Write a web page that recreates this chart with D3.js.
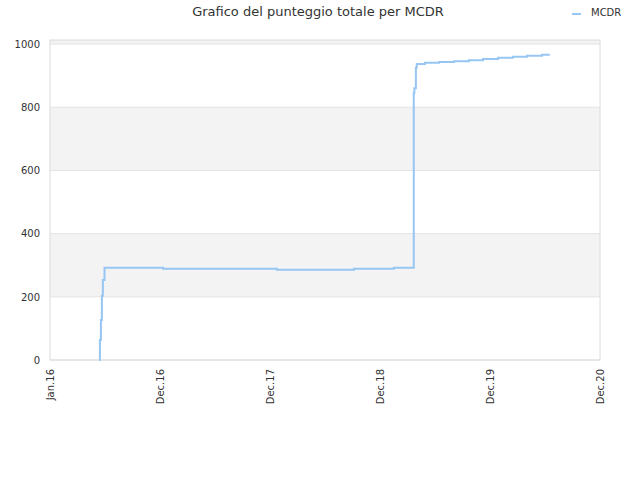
<!DOCTYPE html>
<html>
<head>
<meta charset="utf-8">
<script src="https://cdn.jsdelivr.net/npm/d3@7"></script>
<style>
  body { margin: 0; background: #fff; }
  text { font-family: "DejaVu Sans", sans-serif; fill: #333; }
</style>
</head>
<body>
<div id="chart"></div>
<script>
// Grafico del punteggio totale per MCDR

const width = 640;
const height = 480;

// Data
const seriesName = "MCDR";
const dates = [
    "2016-05-30", "2016-06-01", "2016-06-04", "2016-06-07", "2016-06-10", "2016-06-15",
    "2016-12-11", "2017-12-24", "2018-09-06", "2019-01-16",
    "2019-03-23", "2019-03-25", "2019-03-30", "2019-04-02", "2019-04-29",
    "2019-06-15", "2019-08-04", "2019-09-22", "2019-11-08", "2019-12-28",
    "2020-02-15", "2020-04-02", "2020-05-22", "2020-06-17"
];
const scores = [
    0, 63, 127, 203, 253, 292,
    289, 286, 289, 292,
    845, 860, 925, 937, 941,
    943, 946, 949, 953, 957,
    960, 963, 966, 966
];
const tickDates = ["2016-01-01", "2016-12-01", "2017-12-01", "2018-12-01", "2019-12-01", "2020-12-01"];
const tickLabels = ["Jan.16", "Dec.16", "Dec.17", "Dec.18", "Dec.19", "Dec.20"];
const yTicks = [0, 200, 400, 600, 800, 1000];

const parse = d3.timeParse("%Y-%m-%d");
const data = dates.map((d, i) => ({ date: parse(d), value: scores[i] }));

const plot = { left: 50, right: 600, top: 40, bottom: 360 };

const svg = d3.select("#chart")
    .append("svg")
    .attr("width", width)
    .attr("height", height);

// x ticks are evenly spaced, so use a piecewise time scale
const x = d3.scaleTime()
    .domain(tickDates.map(parse))
    .range(tickDates.map((d, i) => plot.left + i * (plot.right - plot.left) / (tickDates.length - 1)));

const y = d3.scaleLinear()
    .domain([0, 1013])
    .range([plot.bottom, plot.top]);

// alternating bands
const bandEdges = yTicks.concat([y.domain()[1]]);
svg.selectAll(".band")
    .data(bandEdges.slice(0, -1))
    .enter().append("rect")
    .attr("class", "band")
    .attr("x", plot.left)
    .attr("width", plot.right - plot.left)
    .attr("y", (d, i) => y(bandEdges[i + 1]))
    .attr("height", (d, i) => y(d) - y(bandEdges[i + 1]))
    .attr("fill", (d, i) => i % 2 ? "#f3f3f3" : "#fff");

// grid lines
svg.selectAll(".grid")
    .data(yTicks)
    .enter().append("line")
    .attr("class", "grid")
    .attr("x1", plot.left)
    .attr("x2", plot.right)
    .attr("y1", d => y(d))
    .attr("y2", d => y(d))
    .attr("stroke", "#e3e3e3");

// frame
svg.append("rect")
    .attr("x", plot.left)
    .attr("y", plot.top)
    .attr("width", plot.right - plot.left)
    .attr("height", plot.bottom - plot.top)
    .attr("fill", "none")
    .attr("stroke", "#dcdcdc");

// y axis
const yAxis = svg.append("g")
    .attr("transform", `translate(${plot.left},0)`)
    .call(d3.axisLeft(y).tickValues(yTicks).tickFormat(d3.format("d")).tickSize(0).tickPadding(10));
yAxis.select(".domain").remove();
yAxis.selectAll("text")
    .style("font-size", "10px")
    .attr("fill", "#333");

// x axis
const xAxis = svg.append("g")
    .attr("transform", `translate(0,${plot.bottom})`)
    .call(d3.axisBottom(x)
        .tickValues(tickDates.map(parse))
        .tickFormat((d, i) => tickLabels[i])
        .tickSize(0));
xAxis.select(".domain").remove();
xAxis.selectAll("text")
    .style("font-size", "10px")
    .attr("fill", "#333")
    .attr("text-anchor", "end")
    .attr("transform", "rotate(-90)")
    .attr("x", -9)
    .attr("y", 0)
    .attr("dy", "0.35em");

// line
const line = d3.line()
    .x(d => x(d.date))
    .y(d => y(d.value))
    .curve(d3.curveStepAfter);

svg.append("path")
    .datum(data)
    .attr("fill", "none")
    .attr("stroke", "#97c6f3")
    .attr("stroke-width", 2)
    .attr("d", line);

// title
svg.append("text")
    .attr("x", 318)
    .attr("y", 16)
    .attr("text-anchor", "middle")
    .style("font-size", "13px")
    .text("Grafico del punteggio totale per MCDR");

// legend
svg.append("line")
    .attr("x1", 572)
    .attr("x2", 581)
    .attr("y1", 14)
    .attr("y2", 14)
    .attr("stroke", "#97c6f3")
    .attr("stroke-width", 2);

svg.append("text")
    .attr("x", 591)
    .attr("y", 16)
    .style("font-size", "10px")
    .text(seriesName);
</script>
</body>
</html>
